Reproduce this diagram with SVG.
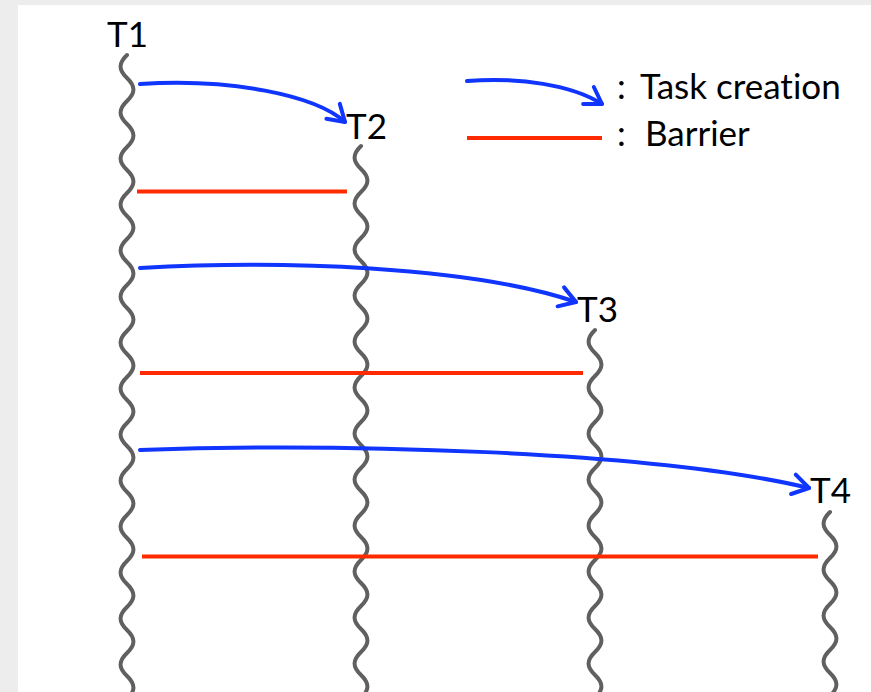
<svg xmlns="http://www.w3.org/2000/svg" xmlns:xlink="http://www.w3.org/1999/xlink" width="871" height="692" viewBox="0 0 871 692">
  <style>
    .thread { fill: none; stroke: #606060; stroke-width: 4; stroke-linecap: round; }
    .create { fill: none; stroke: #0f35ff; stroke-width: 4; stroke-linecap: round; }
    .barrier { fill: none; stroke: #ff2a00; stroke-width: 4; }
    .label { font-family: Lato, "Open Sans", "DejaVu Sans", sans-serif; font-size: 35px; fill: #000;
             font-variant-ligatures: none; }
  </style>
  <defs>
    <!-- wavy thread line, starts at (0,0) and runs downwards -->
    <path id="wave" d="M0,0 c -8.6,8.28 -8.6,14.72 0,23
      s 8.6,14.72 0,23 s -8.6,14.72 0,23 s 8.6,14.72 0,23 s -8.6,14.72 0,23
      s 8.6,14.72 0,23 s -8.6,14.72 0,23 s 8.6,14.72 0,23 s -8.6,14.72 0,23
      s 8.6,14.72 0,23 s -8.6,14.72 0,23 s 8.6,14.72 0,23 s -8.6,14.72 0,23
      s 8.6,14.72 0,23 s -8.6,14.72 0,23 s 8.6,14.72 0,23 s -8.6,14.72 0,23
      s 8.6,14.72 0,23 s -8.6,14.72 0,23 s 8.6,14.72 0,23 s -8.6,14.72 0,23
      s 8.6,14.72 0,23 s -8.6,14.72 0,23 s 8.6,14.72 0,23 s -8.6,14.72 0,23
      s 8.6,14.72 0,23 s -8.6,14.72 0,23 s 8.6,14.72 0,23 s -8.6,14.72 0,23"/>
    <marker id="head" markerUnits="userSpaceOnUse" orient="auto" refX="0" refY="0"
            markerWidth="40" markerHeight="40" viewBox="-20 -20 40 40" overflow="visible">
      <path d="M-16,-10 L0,0 L-16,10" fill="none" stroke="#0f35ff" stroke-width="4"
            stroke-linecap="round" stroke-linejoin="round"/>
    </marker>
  </defs>

  <!-- page -->
  <rect x="0" y="0" width="871" height="692" fill="#ededed"/>
  <rect x="18" y="5" width="853" height="687" fill="#ffffff"/>

  <!-- threads -->
  <g id="T1">
    <use xlink:href="#wave" class="thread" transform="translate(127,55)"/>
    <text class="label" x="107" y="47">T1</text>
  </g>
  <g id="T2">
    <use xlink:href="#wave" class="thread" transform="translate(361,146)"/>
    <text class="label" x="346" y="139">T2</text>
  </g>
  <g id="T3">
    <use xlink:href="#wave" class="thread" transform="translate(595,330)"/>
    <text class="label" x="577" y="322">T3</text>
  </g>
  <g id="T4">
    <use xlink:href="#wave" class="thread" transform="translate(830,512)"/>
    <text class="label" x="810" y="503">T4</text>
  </g>

  <!-- task creation arrows and barriers -->
  <g id="connectors">
    <path class="create" marker-end="url(#head)" d="M140,84 C230,78 315,95 345,122"/>
    <path class="create" marker-end="url(#head)" d="M140,268 C280,260 470,266 576,302"/>
    <path class="create" marker-end="url(#head)" d="M140,450 C330,443 650,450 809,488"/>
    <line class="barrier" x1="137" y1="191.5" x2="347" y2="191.5"/>
    <line class="barrier" x1="140" y1="373" x2="583" y2="373"/>
    <line class="barrier" x1="142" y1="556.5" x2="818" y2="556.5"/>
  </g>

  <!-- legend -->
  <g id="legend">
    <path class="create" marker-end="url(#head)" d="M467,81 C520,77 572,85 602,104"/>
    <text class="label" x="617" y="99">:<tspan x="640">Task creation</tspan></text>
    <line class="barrier" x1="467" y1="138" x2="602" y2="138"/>
    <text class="label" x="617" y="146">:<tspan x="645">Barrier</tspan></text>
  </g>
</svg>
